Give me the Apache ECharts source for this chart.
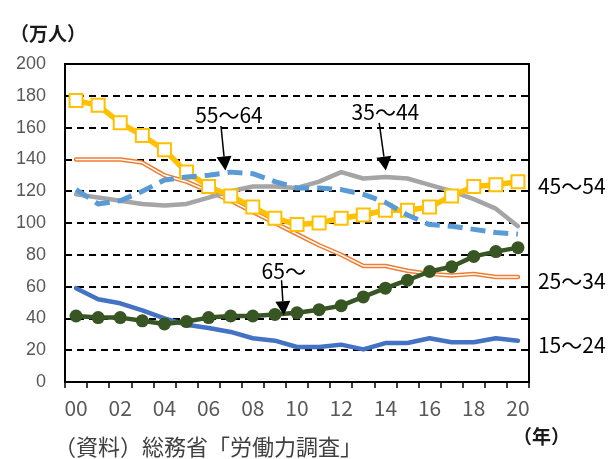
<!DOCTYPE html>
<html>
<head>
<meta charset="utf-8">
<script src="https://cdn.jsdelivr.net/npm/echarts@6/dist/echarts.min.js"></script>
<style>
  html, body { margin: 0; padding: 0; background: #fff; }
  #chart { width: 611px; height: 459px; }
</style>
</head>
<body>
<div id="chart"></div>
<script>
// 年齢階級別の推移（万人）
const years = ['00','01','02','03','04','05','06','07','08','09','10',
               '11','12','13','14','15','16','17','18','19','20'];
const age15to24 = [59, 52, 49.5, 45, 40, 36, 34, 31.5, 27.5, 26, 22, 22, 23.5, 20.5, 24.5, 24.5, 27.5, 25, 25, 27.5, 26];
const age25to34 = [140, 140, 140, 138, 130, 126, 120, 114, 107, 100, 93, 86, 80, 73, 73, 70, 68, 67, 68, 66, 66];
const age35to44 = [118, 116, 114, 112, 111, 112, 116, 120, 123, 123, 122, 126, 132, 128, 129, 128, 124, 120, 115, 109, 98];
const age45to54 = [177, 174, 163, 155, 146, 132, 123, 117, 110, 103, 99, 100, 103, 105, 108, 108, 110, 117, 123, 124, 126];
const age55to64 = [121, 112, 114, 120, 127, 129, 130, 132, 131, 126, 122, 122, 121, 118, 113, 105, 99, 98, 96, 94, 93];
const age65over = [41.5, 40.5, 40.5, 38.5, 36.5, 38, 40.5, 41.5, 41.5, 42.5, 43.5, 45.5, 48, 53.5, 59, 64, 69.5, 72.5, 79, 82, 84.5];

const NARROW = "'Liberation Sans Narrow', 'Noto Sans CJK JP', sans-serif";
const SANS = "'Liberation Sans', Arial, sans-serif";
const CJK = "'Noto Sans CJK JP', sans-serif";

const endLabel = (name) => ({
  show: true,
  formatter: name,
  color: '#000',
  fontFamily: NARROW,
  fontSize: 21,
  distance: 20,
  offset: [0, 4]
});

const chart = echarts.init(document.getElementById('chart'), null, { renderer: 'canvas' });

const option = {
  animation: false,
  backgroundColor: '#fff',
  grid: {
    left: 65, right: 82, top: 64, bottom: 77,
    show: true, borderColor: '#000', borderWidth: 2, backgroundColor: 'transparent'
  },
  xAxis: {
    type: 'category',
    data: years,
    boundaryGap: true,
    axisLine: { lineStyle: { color: '#000', width: 2 } },
    axisTick: { show: true, inside: false, length: 6, interval: 0, lineStyle: { color: '#000', width: 1.5 } },
    axisLabel: { interval: 1, color: '#595959', fontFamily: NARROW, fontSize: 21, margin: 16 },
    splitLine: { show: false }
  },
  yAxis: [
    {
      type: 'value', min: 0, max: 200, interval: 20,
      axisLine: { show: true, lineStyle: { color: '#000', width: 2 } },
      axisTick: { show: true, inside: true, length: 6, lineStyle: { color: '#000', width: 1.5 } },
      axisLabel: { color: '#595959', fontFamily: SANS, fontSize: 18, margin: 19 },
      splitLine: { show: true, lineStyle: { color: '#000', width: 2, type: [7, 5] } }
    },
    {
      type: 'value', min: 0, max: 200, interval: 20, position: 'right',
      axisLine: { show: true, lineStyle: { color: '#000', width: 2 } },
      axisTick: { show: true, inside: true, length: 6, lineStyle: { color: '#000', width: 1.5 } },
      axisLabel: { show: false },
      splitLine: { show: false }
    }
  ],
  series: [
    {
      name: '15～24', type: 'line', data: age15to24, z: 2,
      symbol: 'none', lineStyle: { color: '#4472C4', width: 4.5, cap: 'round', join: 'round' },
      endLabel: endLabel('15～24')
    },
    {
      name: '25～34', type: 'line', data: age25to34, z: 3,
      symbol: 'none', lineStyle: { color: '#ED7D31', width: 4.5, cap: 'round', join: 'round' },
      endLabel: endLabel('25～34')
    },
    {
      name: '25～34 inner', type: 'line', data: age25to34, z: 3,
      symbol: 'none', lineStyle: { color: '#fff', width: 1.5, cap: 'round', join: 'round' }
    },
    {
      name: '35～44', type: 'line', data: age35to44, z: 4,
      symbol: 'none', lineStyle: { color: '#A5A5A5', width: 4.5, cap: 'round', join: 'round' }
    },
    {
      name: '45～54', type: 'line', data: age45to54, z: 5,
      symbol: 'rect', symbolSize: 13, showAllSymbol: true,
      itemStyle: { color: '#fff', borderColor: '#FFC000', borderWidth: 2 },
      lineStyle: { color: '#FFC000', width: 5.5, join: 'round' },
      endLabel: endLabel('45～54')
    },
    {
      name: '55～64', type: 'line', data: age55to64, z: 6,
      symbol: 'none', lineStyle: { color: '#5B9BD5', width: 5, type: [15, 8], cap: 'butt', join: 'round' }
    },
    {
      name: '65～', type: 'line', data: age65over, z: 7,
      symbol: 'circle', symbolSize: 13, showAllSymbol: true,
      itemStyle: { color: '#375623', borderWidth: 0 },
      lineStyle: { color: '#375623', width: 4.5, join: 'round' }
    }
  ]
};

chart.setOption(option);

// 注記（矢印付きラベル）：カテゴリ位置と値で指定
const notes = [
  { text: '55～64', label: [6.92, 168], from: [6.56, 161], to: [6.76, 133] },
  { text: '35～44', label: [14.0, 170], from: [13.72, 163], to: [14.02, 133] },
  { text: '65～',   label: [9.4, 70],   from: [9.3, 64],    to: [9.4, 42] }
];

function toPixel(idx, val) {
  const p0 = chart.convertToPixel({ gridIndex: 0 }, [0, val]);
  const p1 = chart.convertToPixel({ gridIndex: 0 }, [1, val]);
  return [p0[0] + (p1[0] - p0[0]) * idx, p0[1]];
}

const graphics = [];
notes.forEach((n) => {
  const a = toPixel(n.from[0], n.from[1]);
  const b = toPixel(n.to[0], n.to[1]);
  const l = toPixel(n.label[0], n.label[1]);
  const dx = b[0] - a[0], dy = b[1] - a[1];
  const len = Math.sqrt(dx * dx + dy * dy);
  const ux = dx / len, uy = dy / len;
  const head = 14, half = 7.5;
  const bx = b[0] - ux * head, by = b[1] - uy * head;
  graphics.push({
    type: 'line', z: 20, silent: true,
    shape: { x1: a[0], y1: a[1], x2: bx, y2: by },
    style: { stroke: '#000', lineWidth: 1.5 }
  });
  graphics.push({
    type: 'polygon', z: 20, silent: true,
    shape: { points: [[b[0], b[1]], [bx - uy * half, by + ux * half], [bx + uy * half, by - ux * half]] },
    style: { fill: '#000' }
  });
  graphics.push({
    type: 'text', z: 20, silent: true,
    style: { text: n.text, x: l[0], y: l[1], align: 'center', verticalAlign: 'middle',
             font: '21px ' + NARROW, fill: '#000' }
  });
});

graphics.push({
  type: 'text', silent: true,
  style: { text: '（万人）', x: 10, y: 34, verticalAlign: 'middle',
           font: 'bold 19px ' + CJK, fill: '#1a1a1a' }
});
graphics.push({
  type: 'text', silent: true,
  style: { text: '（年）', x: 513, y: 437, verticalAlign: 'middle',
           font: 'bold 19px ' + CJK, fill: '#1a1a1a' }
});
graphics.push({
  type: 'text', silent: true,
  style: { text: '（資料）総務省「労働力調査」', x: 54, y: 447, verticalAlign: 'middle',
           font: '22px ' + CJK, fill: '#404040' }
});

chart.setOption({ graphic: graphics });
</script>
</body>
</html>
